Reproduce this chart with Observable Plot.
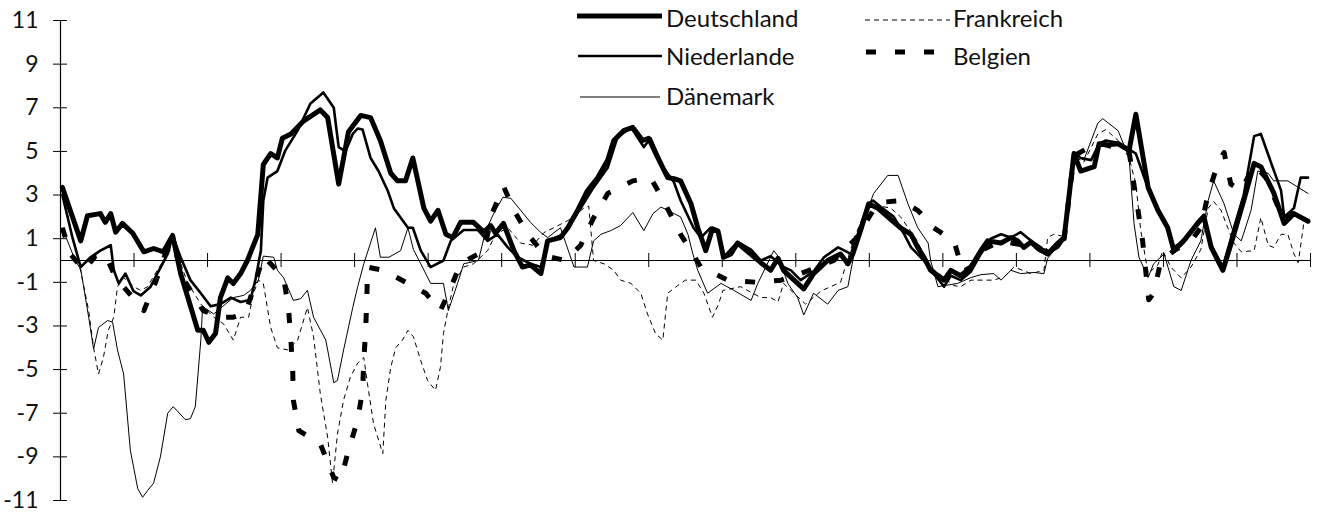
<!DOCTYPE html>
<html><head><meta charset="utf-8">
<script src="https://cdn.jsdelivr.net/npm/d3@7"></script>
<script src="https://cdn.jsdelivr.net/npm/@observablehq/plot@0.6"></script>
<style>
body{margin:0;background:#fff;}
#wrap{position:relative;width:1324px;height:518px;}
#legend{position:absolute;left:0;top:0;pointer-events:none;}
</style></head><body><div id="wrap"></div>
<script>
const yTicks = [-11,-9,-7,-5,-3,-1,1,3,5,7,9,11];
const xTicks = [0,12,24,36,48,60,72,84,96,108,120,132,144,156,168,180,192,204];
const seriesNames = ["Deutschland","Niederlande","Dänemark","Frankreich","Belgien"];

const deM = [0.3,3.3,4.4,6.5,7.3,8.2,9.0,10.1,11.8,13.6,15.2,16.8,18.3,19.6,22.4,23.3,24.2,25.3,26.1,27.3,28.2,29.4,30.5,32.2,33.1,34.3,35.4,36.2,37.6,39.7,42.4,43.6,45.4,47.0,49.0,50.6,52.2,53.9,55.0,56.3,57.5,59.3,60.4,61.6,62.9,64.0,65.3,67.4,69.1,70.2,71.0,72.3,74.0,75.4,76.7,78.4,79.5,81.6,82.8,84.4,86.0,87.7,89.3,90.3,91.9,93.4,95.0,96.0,97.5,99.1,100.1,101.2,102.9,104.0,105.3,106.4,107.3,108.2,109.4,110.5,112.2,114.3,115.9,117.1,118.0,120.3,121.3,122.9,125.2,127.3,128.5,129.3,130.6,131.9,133.4,135.0,137.1,138.8,139.9,140.9,142.0,144.2,145.3,146.9,148.6,150.2,151.3,153.5,155.1,156.2,157.2,158.4,159.5,161.1,162.8,163.8,165.4,166.5,168.7,169.5,170.9,172.6,174.4,175.5,177.5,179.1,180.7,181.7,183.3,185.6,186.6,187.8,189.7,191.5,193.1,194.8,195.9,198.0,199.7,201.3,203.6];
const deV = [3.35,0.9,2.05,2.15,1.75,2.15,1.3,1.7,1.25,0.4,0.55,0.4,1.15,-0.6,-3.2,-3.2,-3.75,-3.35,-1.7,-0.8,-1.05,-0.6,0.0,1.2,4.4,4.9,4.7,5.6,5.8,6.4,6.9,6.55,3.5,5.9,6.65,6.55,5.5,4.0,3.65,3.65,4.7,2.4,1.8,2.3,1.2,1.05,1.75,1.75,1.3,1.6,1.25,1.7,0.45,-0.3,-0.2,-0.6,0.9,1.05,1.5,2.3,3.2,3.8,4.6,5.5,5.95,6.1,5.5,5.6,4.7,3.8,3.75,3.65,2.6,1.5,0.45,1.45,1.35,0.15,0.3,0.8,0.4,-0.1,-0.45,0.1,-0.45,-1.05,-1.3,-0.6,0.0,0.3,-0.15,0.3,1.4,2.6,2.4,2.0,1.5,1.2,0.6,0.15,-0.45,-0.9,-0.45,-0.7,-0.3,0.45,0.9,0.8,1.05,0.9,0.6,0.85,0.55,0.3,0.8,1.05,4.9,4.1,4.3,5.35,5.3,5.35,5.05,6.7,3.35,2.3,1.5,0.45,0.9,1.7,2.0,0.6,-0.45,1.2,2.75,4.45,4.3,3.1,1.7,2.15,1.8];

const nlM = [0.3,2.0,3.3,4.9,6.5,8.2,8.7,9.5,10.6,11.9,13.1,14.7,15.8,17.5,18.3,19.6,21.2,22.9,24.5,26.1,27.8,29.4,31.0,31.8,32.7,33.1,33.8,35.4,36.7,38.7,40.8,42.9,44.6,45.4,46.5,47.7,48.5,49.3,50.6,51.9,53.4,54.4,56.7,57.5,58.8,60.4,62.5,63.7,65.8,68.1,69.7,71.3,73.0,74.6,76.7,78.4,79.5,82.1,84.9,87.0,89.3,90.9,93.1,95.2,96.3,98.4,100.1,101.2,103.3,104.5,106.1,107.3,108.2,110.5,112.7,114.3,115.9,118.0,119.2,120.8,122.9,124.6,126.9,129.0,130.1,131.8,132.6,133.9,136.0,137.7,138.8,140.9,142.5,144.2,145.3,146.9,148.6,150.2,151.8,153.5,155.1,156.7,158.4,160.0,161.1,162.8,163.8,165.4,166.5,168.2,169.5,170.6,172.6,174.4,175.5,177.5,179.1,180.7,181.7,183.3,185.6,186.6,187.8,189.7,191.5,193.1,194.8,195.9,197.6,199.2,199.7,201.3,202.4,203.6];
const nlV = [3.0,1.0,-0.3,0.15,0.45,0.7,-0.45,-1.05,-0.6,-1.4,-1.6,-1.2,-0.6,0.3,1.15,0.15,-0.9,-1.5,-2.1,-2.0,-1.7,-1.9,-1.8,-0.9,0.45,2.75,3.8,4.1,5.05,5.95,7.2,7.7,7.0,5.2,5.0,5.8,6.05,6.0,4.7,4.1,3.2,2.4,1.5,1.5,0.45,-0.3,0.0,0.9,1.4,1.4,0.9,1.2,0.6,0.15,-0.15,-0.3,0.9,1.2,2.4,3.35,4.25,5.65,6.1,5.2,5.6,4.25,3.6,2.75,1.5,1.05,1.5,1.4,0.15,0.85,0.5,0.0,0.2,-0.3,-0.45,-0.9,-0.5,0.15,0.6,0.3,1.2,2.6,2.75,2.45,2.0,1.2,0.6,0.0,-0.6,-1.2,-0.7,-0.9,-0.5,0.3,1.0,1.2,1.05,1.3,0.9,0.6,0.3,0.6,1.0,4.95,4.7,4.6,5.35,5.5,5.4,5.1,4.9,3.3,2.3,1.5,0.6,0.9,1.8,2.1,0.7,-0.3,1.5,3.0,5.7,5.8,4.45,3.2,2.0,2.4,3.8,3.8];

const dkM = [0.3,2.4,3.3,4.6,5.4,6.2,7.7,8.5,9.3,10.3,11.4,12.6,13.4,14.2,15.2,16.3,17.5,18.4,20.4,21.2,22.0,22.9,23.2,25.0,28.2,29.9,31.0,32.3,33.1,34.8,35.4,36.4,38.0,39.2,40.3,41.3,43.3,44.6,45.2,46.2,47.7,48.5,49.5,51.4,52.2,53.6,55.5,56.7,57.6,58.8,60.4,62.5,63.3,64.8,65.8,68.2,69.4,70.7,72.2,73.5,75.1,76.7,78.4,79.5,81.6,83.8,86.0,87.0,88.2,89.8,91.4,93.4,95.2,96.7,98.0,101.2,102.4,103.2,104.0,105.6,107.8,109.9,112.7,113.8,116.4,117.1,118.7,120.3,121.3,122.9,125.2,126.9,128.5,129.5,130.6,132.7,135.0,136.7,138.3,139.9,141.6,142.0,143.2,146.4,148.6,150.2,152.3,153.5,155.1,156.7,158.9,160.5,161.1,163.8,165.4,167.0,169.3,170.1,172.6,174.4,175.2,176.0,177.5,178.4,180.1,181.7,182.9,184.5,186.1,187.3,188.2,189.9,191.5,192.7,194.3,195.4,197.1,198.0,200.3,203.6];
const dkV = [1.5,0.0,-0.4,-2.6,-4.05,-3.07,-2.75,-2.83,-4.1,-5.2,-8.7,-10.45,-10.85,-10.55,-10.2,-9.0,-7.0,-6.7,-7.3,-7.25,-6.7,-3.65,-2.1,-2.45,-1.7,-1.6,-1.37,-0.9,0.2,0.15,-0.45,-0.78,-1.83,-1.75,-1.37,-2.6,-3.65,-5.6,-5.5,-4.1,-2.15,-1.2,-0.15,1.5,0.15,0.15,0.45,1.5,0.5,-0.15,-1.05,-1.05,-2.3,-1.05,-0.15,0.0,1.37,2.15,2.9,2.85,2.3,1.75,1.28,1.05,1.5,-0.3,-0.3,0.9,1.2,1.37,1.6,2.2,1.37,2.15,2.45,2.0,1.2,0.3,-0.45,-1.5,-1.05,-1.37,-1.83,-1.05,0.45,0.2,-1.05,-1.7,-2.5,-1.5,-2.0,-1.37,-1.2,0.3,1.5,3.07,3.9,3.9,2.6,1.5,0.8,0.0,-1.2,-1.05,-0.78,-0.65,-0.6,-0.9,-0.45,-0.6,-0.55,-0.6,0.1,1.0,4.9,4.6,6.3,6.5,5.95,4.7,1.7,0.15,-0.78,-0.15,0.3,-1.2,-1.37,0.0,0.9,2.75,3.65,2.6,1.2,0.9,2.3,4.1,4.0,3.65,3.65,3.07];

const frM = [0.3,1.6,3.3,4.6,5.4,6.2,7.0,7.8,8.7,9.3,10.3,11.9,13.1,14.2,15.8,17.5,18.3,20.7,22.9,25.0,26.6,28.2,29.4,30.7,31.5,32.3,33.1,34.3,35.4,37.1,38.7,40.3,41.3,42.4,43.6,44.4,45.2,46.2,47.3,48.5,49.5,50.1,51.1,52.6,53.1,53.9,54.7,55.8,56.7,57.6,58.8,59.9,61.2,62.0,62.5,63.2,64.2,65.8,67.4,69.7,71.0,73.0,75.1,77.1,78.9,80.5,82.8,85.4,86.2,87.0,88.7,90.3,91.4,93.1,94.7,95.8,97.1,98.3,99.1,101.2,102.0,103.7,105.0,106.4,107.4,108.1,111.0,114.3,115.9,117.1,118.0,119.7,121.6,124.1,127.3,129.5,131.8,135.5,137.1,139.6,142.0,145.8,146.9,148.6,152.3,154.0,155.6,158.4,160.5,161.1,162.1,163.8,165.4,167.0,169.3,170.6,172.6,174.4,175.5,176.3,177.5,179.1,179.9,181.2,182.9,184.5,186.1,187.3,188.2,189.4,190.5,191.5,192.7,194.8,195.9,197.1,198.0,199.2,200.3,201.3,202.0,202.9,203.8];
const frV = [3.3,1.5,-0.5,-2.3,-4.0,-5.2,-4.45,-3.2,-2.6,-1.2,-0.78,-1.2,-1.37,-1.2,-0.45,0.3,0.9,-1.0,-2.0,-2.6,-2.9,-3.65,-2.6,-2.6,-1.5,-0.9,-1.05,-3.07,-4.0,-4.1,-3.65,-2.15,-3.5,-6.1,-8.1,-10.2,-7.95,-6.4,-5.35,-4.7,-4.45,-5.65,-7.5,-8.85,-6.4,-4.9,-4.0,-3.65,-3.2,-3.5,-4.6,-5.5,-5.95,-4.9,-3.35,-2.3,-1.05,-0.3,-0.15,0.45,1.2,1.5,0.8,0.7,1.28,1.5,1.83,2.4,2.5,0.0,-0.15,-0.45,-0.9,-1.05,-1.5,-2.45,-3.35,-3.65,-1.5,-1.05,-0.9,-0.9,-1.5,-2.6,-2.0,-1.37,-1.2,-1.7,-1.7,-1.9,-1.05,-1.5,-2.0,-1.4,-1.0,1.0,2.6,2.4,2.0,1.0,-0.3,-1.15,-1.2,-0.9,-0.9,-0.75,-0.3,-0.6,-0.45,1.05,1.2,1.1,4.8,4.5,5.8,6.0,5.5,4.7,3.5,1.37,-0.6,-0.2,0.45,-0.3,-0.8,-0.3,0.5,2.4,2.7,2.3,1.5,0.8,0.4,0.45,1.97,0.7,0.6,1.2,1.2,0.3,-0.1,1.7,1.9];

const beM = [0.3,1.6,3.8,5.7,7.3,9.0,10.9,13.6,15.5,17.1,18.3,20.4,23.3,26.1,28.2,30.2,31.8,33.1,34.8,36.4,37.2,37.6,37.9,38.0,38.9,42.4,44.1,44.6,45.7,47.0,48.5,49.3,49.5,49.8,50.0,50.1,52.7,56.7,59.6,62.0,63.3,65.3,69.1,70.5,72.3,74.0,76.4,79.2,82.4,84.9,86.9,89.3,93.4,96.3,98.4,101.2,104.5,108.9,113.8,117.6,120.8,126.2,129.8,133.4,137.1,139.9,142.5,145.8,147.3,148.6,150.2,153.5,157.2,161.1,163.8,165.4,169.3,174.4,175.0,175.8,176.6,177.1,177.6,178.4,179.6,182.0,184.5,186.1,187.3,188.9,189.9,191.0,192.7,194.8,196.7,199.7,201.3,203.6];
const beV = [1.5,0.3,-0.45,0.2,0.3,-0.8,-1.4,-2.3,-1.0,0.3,0.8,-1.0,-2.3,-2.6,-2.6,-2.4,-1.0,0.2,-0.3,-0.78,-2.15,-3.65,-5.05,-6.4,-7.8,-8.4,-9.6,-9.95,-10.1,-8.7,-7.3,-5.95,-4.6,-3.2,-1.7,-0.3,-0.45,-1.05,-1.5,-2.3,-1.5,-0.15,0.45,2.2,3.4,2.3,1.15,0.2,0.0,0.7,1.9,3.07,3.65,3.8,2.75,1.2,-0.3,-0.9,-1.0,-0.9,-0.6,0.0,1.0,2.65,2.75,2.3,1.5,0.9,-0.5,-0.3,0.45,0.9,0.7,0.4,1.0,4.8,5.4,5.0,3.8,2.4,0.9,-0.45,-1.8,-1.5,0.0,0.5,0.9,1.5,3.07,4.45,4.95,3.5,3.2,4.4,3.8,1.8,2.2,1.9];

function rows(name, ms, vs) {
  const n = Math.min(ms.length, vs.length);
  return d3.range(n).map(i => ({series: name, month: ms[i], value: vs[i]}));
}
const data = {
  "Deutschland": rows("Deutschland", deM, deV),
  "Niederlande": rows("Niederlande", nlM, nlV),
  "Dänemark": rows("Dänemark", dkM, dkV),
  "Frankreich": rows("Frankreich", frM, frV),
  "Belgien": rows("Belgien", beM, beV)
};
const styles = {
  "Deutschland": {strokeWidth: 5, dash: null},
  "Niederlande": {strokeWidth: 2.6, dash: null},
  "Dänemark": {strokeWidth: 1, dash: null},
  "Frankreich": {strokeWidth: 1, dash: "5,4"},
  "Belgien": {strokeWidth: 5, dash: "10,19"}
};
const drawOrder = ["Dänemark","Frankreich","Belgien","Niederlande","Deutschland"];
const FONT = "Lato, 'Open Sans', sans-serif";

const chart = Plot.plot({
  width: 1324, height: 518,
  marginLeft: 60, marginRight: 14, marginTop: 20, marginBottom: 18,
  style: {fontFamily: FONT, fontSize: "23px", color: "#111", background: "#fff"},
  x: {domain: [0, 204]},
  y: {domain: [-11, 11]},
  marks: [
    Plot.ruleY([0], {stroke: "#000", strokeWidth: 1.2}),
    Plot.ruleX([0], {stroke: "#000", strokeWidth: 1.2}),
    Plot.axisX({ticks: xTicks, anchor: "bottom", tickSize: 14, dy: -247, fill: "none", stroke: "#000", label: null}),
    Plot.axisY({ticks: yTicks, anchor: "left", tickSize: 14, dx: 7, fill: "none", stroke: "#000", label: null}),
    Plot.axisY({ticks: yTicks, anchor: "left", tickSize: 0, tickPadding: 22, label: null, fill: "#111", tickFormat: d => String(d)}),
    ...drawOrder.map(name => Plot.line(data[name], {
      x: "month", y: "value", stroke: "#000",
      strokeWidth: styles[name].strokeWidth,
      strokeDasharray: styles[name].dash,
      strokeLinejoin: "round", strokeLinecap: styles[name].dash ? "butt" : "round"
    }))
  ]
});
const wrap = document.getElementById("wrap");
wrap.appendChild(chart);

// legend overlay
const legendItems = [
  {name: "Deutschland", x1: 577, x2: 662, ly: 16, tx: 666, ty: 27},
  {name: "Niederlande", x1: 578, x2: 662, ly: 56, tx: 666, ty: 65},
  {name: "Dänemark", x1: 580, x2: 660, ly: 97, tx: 666, ty: 105},
  {name: "Frankreich", x1: 865, x2: 950, ly: 20, tx: 953, ty: 27},
  {name: "Belgien", x1: 866, x2: 937, ly: 52, tx: 953, ty: 65}
];
const lg = d3.select(wrap).append("svg").attr("id", "legend").attr("width", 1324).attr("height", 518);
legendItems.forEach(it => {
  const s = styles[it.name];
  lg.append("line").attr("x1", it.x1).attr("x2", it.x2).attr("y1", it.ly).attr("y2", it.ly)
    .attr("stroke", "#000").attr("stroke-width", s.strokeWidth)
    .attr("stroke-dasharray", s.dash).attr("stroke-linecap", "butt");
  lg.append("text").attr("x", it.tx).attr("y", it.ty).text(it.name)
    .attr("font-family", FONT).attr("font-size", 24).attr("font-weight", 400).attr("fill", "#111");
});
</script></body></html>
